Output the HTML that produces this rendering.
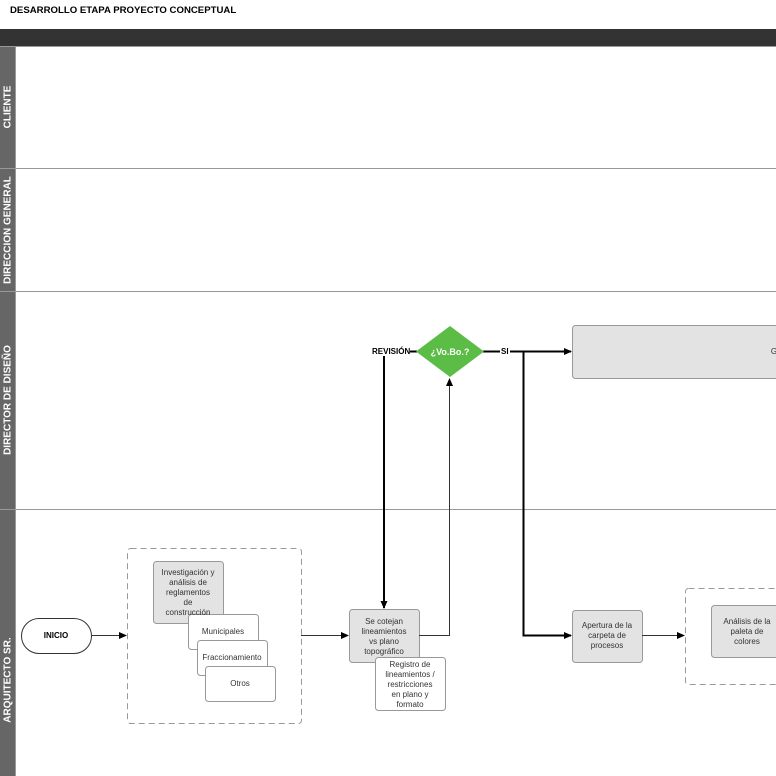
<!DOCTYPE html><html><head><meta charset="utf-8"><style>body{margin:0;background:#fff}svg{display:block;font-family:"Liberation Sans",sans-serif}</style></head><body>
<svg width="776" height="776" viewBox="0 0 776 776">
<defs><marker id="a" markerWidth="8" markerHeight="8" refX="7" refY="4" orient="auto" markerUnits="userSpaceOnUse"><path d="M0,0.5 L8,4 L0,7.5z" fill="#000"/></marker></defs>
<text x="10" y="13" font-size="9.6" font-weight="bold" fill="#000">DESARROLLO ETAPA PROYECTO CONCEPTUAL</text>
<rect x="0" y="29" width="776" height="17" fill="#333"/>
<rect x="0" y="46" width="15" height="730" fill="#666"/>
<g stroke="#999" stroke-width="1"><line x1="0" y1="46.5" x2="776" y2="46.5"/><line x1="0" y1="168.5" x2="776" y2="168.5"/><line x1="0" y1="291.5" x2="776" y2="291.5"/><line x1="0" y1="509.5" x2="776" y2="509.5"/><line x1="15.5" y1="46" x2="15.5" y2="776"/></g>
<g fill="#fff" font-size="10" font-weight="bold" text-anchor="middle">
<text transform="translate(7,107) rotate(-90)" dy="3.5">CLIENTE</text>
<text transform="translate(7,230) rotate(-90)" dy="3.5">DIRECCION GENERAL</text>
<text transform="translate(7,400) rotate(-90)" dy="3.5">DIRECTOR DE DISEÑO</text>
<text transform="translate(7,680) rotate(-90)" dy="3.5">ARQUITECTO SR.</text></g>
<g stroke="#999" fill="none" stroke-dasharray="6,4"><rect x="127.5" y="548.5" width="174" height="175" rx="3"/><rect x="685.5" y="588.5" width="100" height="96" rx="3"/></g>
<rect x="21.5" y="618.5" width="70" height="35" rx="17.5" fill="#fff" stroke="#333"/>
<text x="56" y="638" font-size="8" font-weight="bold" text-anchor="middle">INICIO</text>
<g stroke="#999" stroke-width="1">
<rect x="153.5" y="561.5" width="70" height="62" rx="3" fill="#e3e3e3"/>
<rect x="188.5" y="614.5" width="70" height="35" rx="3" fill="#fff"/>
<rect x="197.5" y="640.5" width="70" height="35" rx="3" fill="#fff"/>
<rect x="205.5" y="666.5" width="70" height="35" rx="3" fill="#fff"/>
<rect x="349.5" y="609.5" width="70" height="53" rx="3" fill="#e3e3e3"/>
<rect x="375.5" y="657.5" width="70" height="53" rx="3" fill="#fff"/>
<rect x="572.5" y="325.5" width="220" height="53" rx="3" fill="#e3e3e3"/>
<rect x="572.5" y="610.5" width="70" height="52" rx="3" fill="#e3e3e3"/>
<rect x="711.5" y="605.5" width="80" height="52" rx="3" fill="#e3e3e3"/>
</g>
<g font-size="8" fill="#333" text-anchor="middle">
<text x="188" y="575">Investigación y</text><text x="188" y="585">análisis de</text><text x="188" y="595">reglamentos</text><text x="188" y="605">de</text><text x="188" y="615">construcción</text>
<text x="223" y="634">Municipales</text><text x="232" y="660">Fraccionamiento</text><text x="240" y="686">Otros</text>
<text x="384" y="624">Se cotejan</text><text x="384" y="634">lineamientos</text><text x="384" y="644">vs plano</text><text x="384" y="654">topográfico</text>
<text x="410" y="667">Registro de</text><text x="410" y="677">lineamientos /</text><text x="410" y="687">restricciones</text><text x="410" y="697">en plano y</text><text x="410" y="707">formato</text>
<text x="607" y="628">Apertura de la</text><text x="607" y="638">carpeta de</text><text x="607" y="648">procesos</text>
<text x="747" y="624">Análisis de la</text><text x="747" y="634">paleta de</text><text x="747" y="644">colores</text>
<text x="774" y="354">G</text></g>
<g stroke="#333" stroke-width="1" fill="none">
<line x1="91" y1="635.5" x2="126" y2="635.5" marker-end="url(#a)"/>
<line x1="301" y1="635.5" x2="348" y2="635.5" marker-end="url(#a)"/>
<path d="M419,635.5 H449.5 V379" marker-end="url(#a)"/>
<line x1="642" y1="635.5" x2="684" y2="635.5" marker-end="url(#a)"/>
</g>
<g stroke="#000" stroke-width="2" fill="none">
<line x1="384" y1="356" x2="384" y2="608" marker-end="url(#a)"/>
<line x1="410" y1="351.5" x2="417" y2="351.5"/>
<line x1="483" y1="351.5" x2="571" y2="351.5" marker-end="url(#a)"/>
<path d="M523.5,351 V635.5 H571" marker-end="url(#a)"/>
</g>
<polygon points="450,326 484,351.5 450,377 416,351.5" fill="#5bbd45"/>
<text x="450" y="355" font-size="9" font-weight="bold" fill="#fff" text-anchor="middle">¿Vo.Bo.?</text>
<text x="372" y="354" font-size="8" font-weight="bold">REVISIÓN</text>
<rect x="500" y="346" width="10" height="10" fill="#fff"/>
<text x="501" y="354" font-size="8" font-weight="bold">SI</text>
</svg></body></html>
